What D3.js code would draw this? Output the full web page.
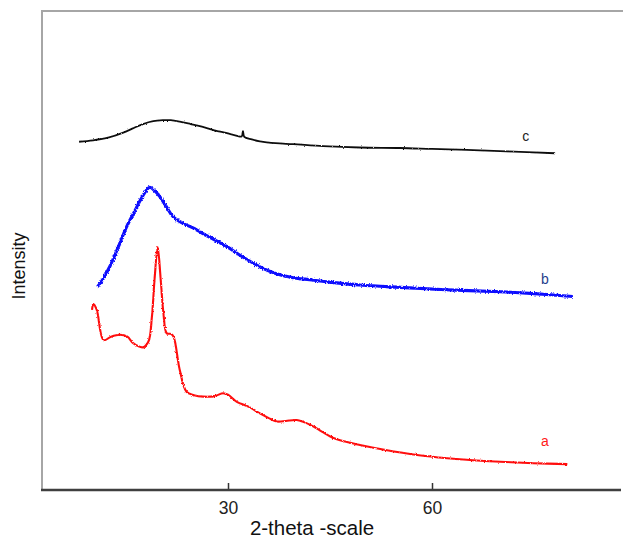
<!DOCTYPE html>
<html>
<head>
<meta charset="utf-8">
<script src="https://cdn.jsdelivr.net/npm/d3@7"></script>
<style>
  body { margin: 0; background: #fff; }
  text { font-family: "Liberation Sans", Arial, sans-serif; }
</style>
</head>
<body>
<div id="chart"></div>
<script>
// 2-theta positions and intensities (arbitrary units)
var theta_a = [10.0, 10.2, 10.7, 11.7, 12.8, 14.1, 15.2, 16.1, 17.5, 18.3, 18.8, 19.2, 19.66, 20.1, 20.5, 21.0, 21.6, 22.0, 22.9, 23.9, 25.0, 26.4, 28.0, 29.3, 30.0, 31.3, 33.0, 34.7, 36.0, 37.2, 38.5, 40.1, 42.1, 43.8, 45.4, 47.5, 49.4, 53.0, 57.8, 61.0, 65.1, 70.0, 74.9, 79.9];
var int_a   = [37.6, 38.8, 37.6, 31.3, 32.0, 32.4, 32.0, 30.6, 29.8, 31.0, 36.0, 44.0, 50.7, 44.0, 37.0, 32.7, 32.6, 32.0, 25.1, 20.5, 19.8, 19.5, 19.6, 20.2, 19.9, 18.4, 17.4, 16.0, 15.0, 14.3, 14.4, 14.6, 13.6, 12.2, 10.9, 10.0, 9.4, 8.4, 7.3, 6.8, 6.3, 5.9, 5.6, 5.4];

var theta_b = [10.8, 11.6, 12.6, 13.8, 15.1, 16.2, 17.1, 18.0, 18.5, 19.2, 20.0, 21.0, 21.9, 23.2, 24.85, 27.0, 29.85, 32.0, 34.7, 37.0, 39.6, 42.0, 45.0, 49.4, 55.3, 62.0, 70.0, 75.0, 80.7];
var int_b   = [42.4, 44.0, 46.6, 50.5, 55.0, 58.0, 60.5, 62.6, 63.2, 62.5, 61.2, 59.0, 57.1, 55.8, 54.7, 53.0, 50.8, 48.8, 46.6, 45.2, 44.3, 43.9, 43.4, 42.8, 42.3, 41.8, 41.4, 41.0, 40.4];

var theta_c = [8.1, 10.15, 12.5, 14.6, 16.0, 17.5, 19.0, 20.4, 21.6, 22.9, 24.5, 26.3, 28.0, 29.85, 31.2, 32.0, 32.2, 32.4, 33.5, 34.7, 37.0, 39.6, 44.0, 49.4, 55.3, 60.0, 65.1, 71.0, 78.1];
var int_c   = [72.7, 73.0, 73.6, 74.6, 75.5, 76.4, 77.0, 77.2, 77.2, 76.9, 76.4, 75.8, 75.1, 74.5, 74.0, 73.8, 74.9, 73.7, 73.2, 72.8, 72.4, 72.2, 71.8, 71.5, 71.4, 71.2, 71.0, 70.7, 70.3];

var series = [
    { label: 'a', theta: theta_a, intensity: int_a, color: '#ff1010', width: 2.1, noise: 2.4 },
    { label: 'b', theta: theta_b, intensity: int_b, color: '#0a0aff', width: 3.1, noise: 3.2 },
    { label: 'c', theta: theta_c, intensity: int_c, color: '#111111', width: 1.8, noise: 2 }
];
var label_colors = { a: '#ff1a1a', b: '#1f3d8c', c: '#222222' };
var label_at = { a: [76.6, 9.2], b: [76.6, 43.0], c: [73.8, 72.9] };

var xTicks = [30, 60];

var svg = d3.select('#chart')
    .append('svg')
    .attr('width', 623)
    .attr('height', 540);

var plotLeft = 42, plotRight = 621, plotTop = 11, plotBottom = 490;

var x = d3.scaleLinear().domain([30, 60]).range([228, 432]);
var y = d3.scaleLinear().domain([0, 100]).range([plotBottom, plotTop]);

// jitter filters so the traces look like noisy counts
var defs = svg.append('defs');
series.forEach(function(s) {
    var f = defs.append('filter')
        .attr('id', 'noise_' + s.label)
        .attr('filterUnits', 'userSpaceOnUse')
        .attr('x', 0).attr('y', 0)
        .attr('width', 623).attr('height', 540);
    f.append('feTurbulence')
        .attr('type', 'fractalNoise')
        .attr('baseFrequency', '0.9 0.6')
        .attr('numOctaves', 2)
        .attr('seed', 3)
        .attr('result', 'turb');
    f.append('feDisplacementMap')
        .attr('in', 'SourceGraphic')
        .attr('in2', 'turb')
        .attr('scale', s.noise)
        .attr('xChannelSelector', 'R')
        .attr('yChannelSelector', 'G');
});

// frame (top and left edges, light grey)
svg.append('path')
    .attr('d', 'M' + plotLeft + ',' + (plotBottom - 1) + 'V' + plotTop + 'H623')
    .attr('fill', 'none')
    .attr('stroke', '#a6a6a6')
    .attr('stroke-width', 2);

// bottom axis
var xAxis = d3.axisBottom(x)
    .tickValues(xTicks)
    .tickSizeInner(-7)
    .tickSizeOuter(0)
    .tickPadding(12);

var gx = svg.append('g')
    .attr('transform', 'translate(0,' + plotBottom + ')')
    .call(xAxis);
gx.select('.domain').remove();
gx.selectAll('.tick line')
    .attr('stroke', '#333')
    .attr('stroke-width', 1.5);
gx.selectAll('.tick text')
    .style('font-size', '17.5px')
    .attr('fill', '#222');
svg.append('line')
    .attr('x1', plotLeft - 1)
    .attr('x2', plotRight)
    .attr('y1', plotBottom)
    .attr('y2', plotBottom)
    .attr('stroke', '#3f3f3f')
    .attr('stroke-width', 2.5);

// the three patterns
var line = d3.line()
    .x(function(d) { return x(d[0]); })
    .y(function(d) { return y(d[1]); })
    .curve(d3.curveCatmullRom.alpha(0.5));

series.forEach(function(s) {
    var pts = s.theta.map(function(t, i) { return [t, s.intensity[i]]; });
    svg.append('path')
        .datum(pts)
        .attr('d', line)
        .attr('fill', 'none')
        .attr('stroke', s.color)
        .attr('stroke-width', s.width)
        .attr('stroke-linejoin', 'round')
        .attr('filter', 'url(#noise_' + s.label + ')');
});

// curve labels
series.forEach(function(s) {
    svg.append('text')
        .attr('x', x(label_at[s.label][0]))
        .attr('y', y(label_at[s.label][1]))
        .attr('text-anchor', 'middle')
        .style('font-size', '14px')
        .attr('fill', label_colors[s.label])
        .text(s.label);
});

// axis titles
svg.append('text')
    .attr('x', 312)
    .attr('y', 535)
    .attr('text-anchor', 'middle')
    .style('font-size', '20.5px')
    .attr('fill', '#111')
    .text('2-theta -scale');

svg.append('text')
    .attr('transform', 'translate(25,266) rotate(-90)')
    .attr('text-anchor', 'middle')
    .style('font-size', '18px')
    .attr('fill', '#111')
    .text('Intensity');
</script>
</body>
</html>
